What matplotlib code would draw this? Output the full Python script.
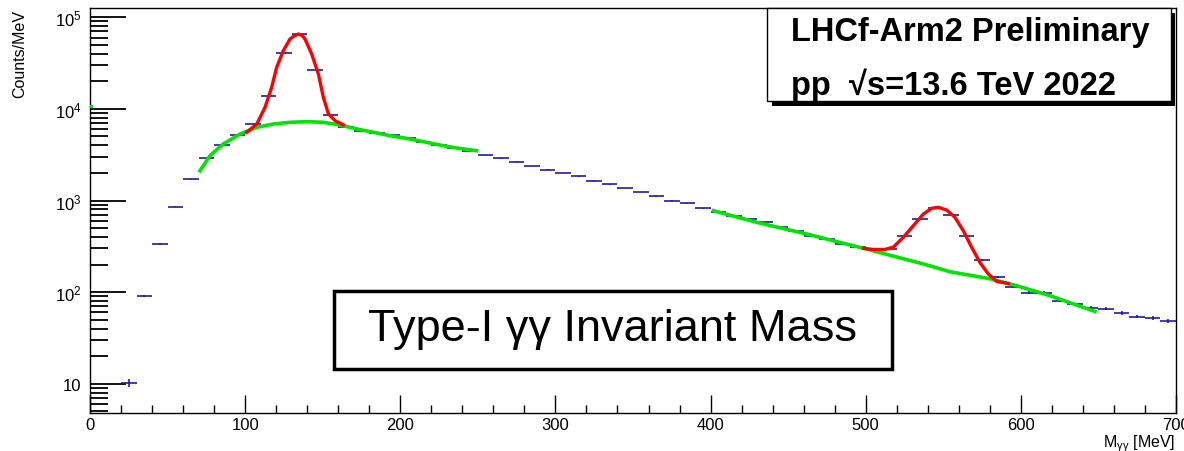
import numpy as np
import matplotlib
matplotlib.use("Agg")
import matplotlib.pyplot as plt
from matplotlib.patches import Rectangle
from matplotlib.ticker import FixedLocator, MultipleLocator, FuncFormatter, NullFormatter

plt.rcParams['font.family'] = ['Liberation Sans', 'DejaVu Sans']
plt.rcParams['mathtext.fontset'] = 'custom'
plt.rcParams['mathtext.rm'] = 'Liberation Sans'
plt.rcParams['mathtext.it'] = 'Liberation Sans:italic'

# histogram: 10 MeV bins, counts per MeV
bin_width = 10
bin_centers = np.arange(25, 700, 10)
counts = [10.2, 90.6, 335, 855, 1703, 2910, 4036, 5150, 6790, 13930,
          41100, 65200, 26800, 8650, 6300, 5780, 5500, 5130, 4810, 4385,
          4035, 3740, 3470, 3160, 2890, 2650, 2380, 2170, 1995, 1837,
          1645, 1503, 1369, 1238, 1111, 995, 935, 824, 748, 682,
          628, 578, 510, 468, 406, 380, 335, 308, 290, 296,
          406, 623, 822, 700, 406, 226, 146, 115, 98.5, 98.5,
          80.5, 73.6, 67.6, 65.9, 59.1, 53.9, 52.2, 48.7]

# fit curves
bkg1_x = [70.9, 77.3, 85.9, 96.7, 107.5, 118.2, 128.9, 139.7, 150.4, 161.2,
          171.9, 182.6, 193.4, 204.1, 214.8, 225.6, 236.4, 249.2]
bkg1_y = [2110, 3085, 4140, 5320, 6300, 6840, 7140, 7250, 7140, 6670,
          6040, 5560, 5100, 4770, 4390, 4030, 3740, 3500]
pi0_x = [101.0, 107.5, 112.8, 117.1, 120.3, 124.6, 128.9, 131.5, 134.3, 136.8,
         138.6, 142.9, 147.2, 150.4, 153.7, 158.0, 163.3]
pi0_y = [5550, 6840, 10400, 17200, 28400, 43200, 57900, 62500, 65700, 63200,
         57900, 39700, 24000, 13400, 8800, 7430, 6700]
bkg2_x = [401.8, 429.7, 462.0, 498.5, 537.2, 554.3, 580.1, 597.3, 618.8, 647.8]
bkg2_y = [774, 578, 431, 301, 203, 167, 140, 117.5, 91.4, 61.5]
eta_x = [498.5, 504.9, 512.4, 517.8, 524.2, 530.7, 537.2, 542.5, 546.8, 552.2,
         557.5, 562.9, 568.3, 573.6, 579.0, 584.4, 592.0]
eta_y = [301, 292, 292, 310, 396, 531, 713, 822, 843, 787,
         656, 468, 308, 211, 158, 131, 124]
stray_x = [0.5]
stray_y = [10700]

counts = np.array(counts)
# poisson errors on counts per MeV
yerr = np.sqrt(counts * bin_width) / bin_width

fig = plt.figure(figsize=(11.84, 4.52), dpi=100)
ax = fig.add_axes([90 / 1184, 1 - 414 / 452, 1086 / 1184, 405 / 452])

ax.errorbar(bin_centers, counts, xerr=bin_width / 2, yerr=yerr, fmt='none',
            ecolor='#1c1ca8', elinewidth=1.2, capsize=0, zorder=2)
ax.plot(bkg1_x, bkg1_y, color='#00e600', lw=2.6, zorder=3)
ax.plot(bkg2_x, bkg2_y, color='#00e600', lw=2.6, zorder=3)
ax.plot(pi0_x, pi0_y, color='#ff0000', lw=2.4, zorder=4)
ax.plot(eta_x, eta_y, color='#ff0000', lw=2.4, zorder=4)
ax.plot(stray_x, stray_y, 's', color='#00e600', ms=2, zorder=3, clip_on=False)

ax.set_yscale('log')
ax.set_xlim(0, 700)
ax.set_ylim(4.79, 1.263e5)

# ticks like ROOT: inside, left and bottom only
ax.xaxis.set_major_locator(MultipleLocator(100))
ax.xaxis.set_minor_locator(MultipleLocator(20))
ax.yaxis.set_major_locator(FixedLocator([10, 100, 1000, 1e4, 1e5]))
ax.yaxis.set_minor_locator(FixedLocator([m * 10 ** e for e in range(0, 5) for m in range(2, 10)]))
ax.yaxis.set_minor_formatter(NullFormatter())


def ylab(v, pos):
    e = int(round(np.log10(v)))
    if e == 1:
        return '10'
    return r'$\mathregular{10^{%d}}$' % e


ax.yaxis.set_major_formatter(FuncFormatter(ylab))
ax.tick_params(axis='y', which='major', direction='in', length=26, width=1.3,
               labelsize=12, pad=6, right=False)
ax.tick_params(axis='y', which='minor', direction='in', length=13, width=1.3, right=False)
ax.tick_params(axis='x', which='major', direction='in', length=13, width=1.0,
               labelsize=12, pad=3, top=False)
ax.tick_params(axis='x', which='minor', direction='in', length=6, width=1.0, top=False)
for s in ax.spines.values():
    s.set_linewidth(1.0)

fig.text(20 / 1184, 1 - 10 / 452, 'Counts/MeV', rotation=90, ha='center', va='top', fontsize=11.5)
fig.text(1175 / 1184, 1 - 444 / 452, r'$\mathregular{M_{\gamma\gamma}}$ [MeV]',
         ha='right', va='center', fontsize=11.5)

# top-right pave with shadow
def px_rect(x0, y0, x1, y1, **kw):
    r = Rectangle((x0 / 1184, 1 - y1 / 452), (x1 - x0) / 1184, (y1 - y0) / 452,
                  transform=fig.transFigure, **kw)
    fig.add_artist(r)

px_rect(772, 14, 1175, 107, facecolor='black', edgecolor='none', zorder=5)
px_rect(767, 9, 1171, 102, facecolor='white', edgecolor='black', lw=1.0, zorder=6)
fig.text(791 / 1184, 1 - 33 / 452, 'LHCf-Arm2 Preliminary', ha='left', va='center',
         fontsize=23.5, fontweight='bold', zorder=7)
fig.text(791 / 1184, 1 - 85 / 452, 'pp  \u221as=13.6 TeV 2022', ha='left', va='center',
         fontsize=23.5, fontweight='bold', zorder=7)

# title box
px_rect(334, 292, 892, 370, facecolor='white', edgecolor='black', lw=2.5, zorder=5)
fig.text(612 / 1184, 1 - 330 / 452, 'Type-I \u03b3\u03b3 Invariant Mass', ha='center', va='center',
         fontsize=32.5, zorder=7)

fig.savefig('out.png', dpi=100)
